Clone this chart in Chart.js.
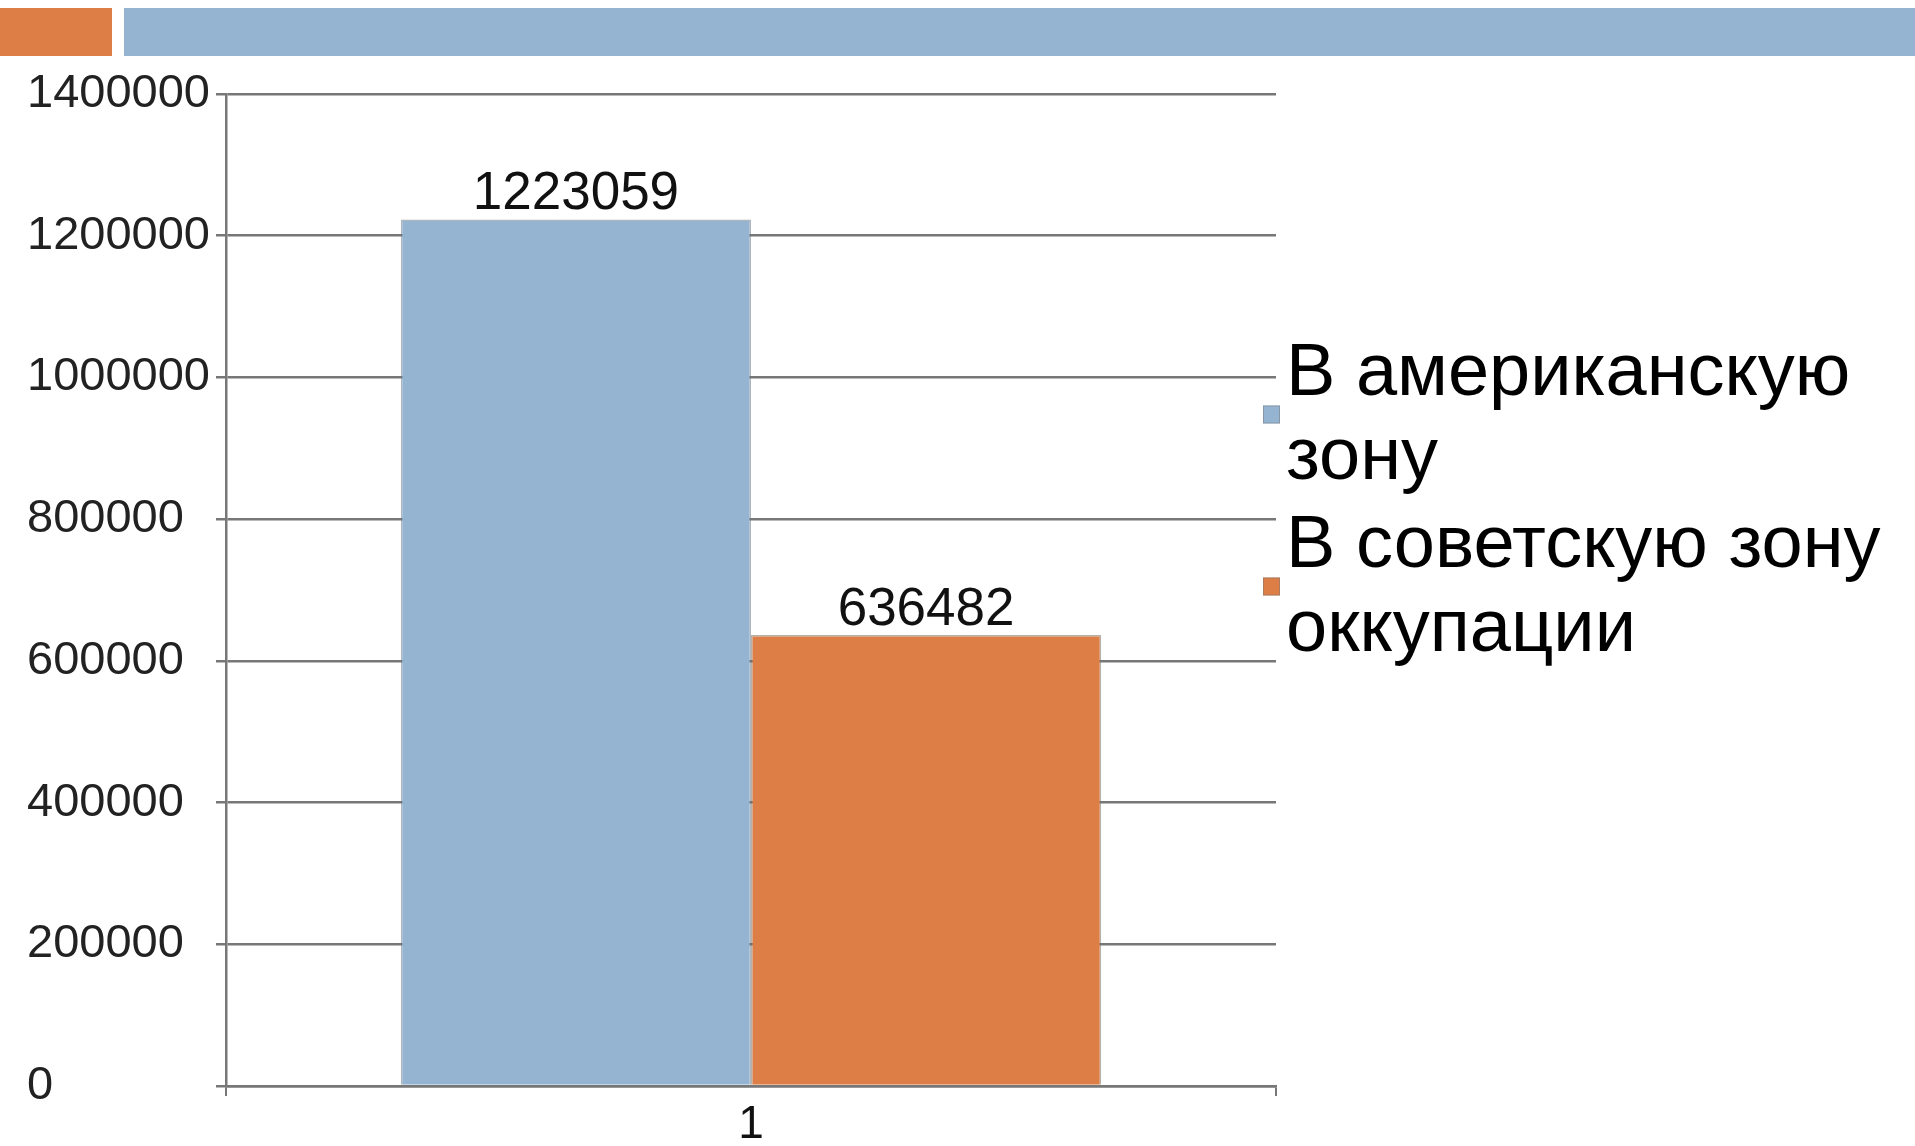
<!DOCTYPE html>
<html>
<head>
<meta charset="utf-8">
<script src="https://cdn.jsdelivr.net/npm/chart.js@4.4.1/dist/chart.umd.min.js"></script>
<style>
  html, body { margin: 0; padding: 0; background: #fff; overflow: hidden; }
  .wrap { position: relative; width: 1915px; height: 1146px; }
  .strip { position: absolute; top: 8px; height: 48px; }
  .strip.orange { left: 0; width: 112px; background: #dc7e46; }
  .strip.blue { left: 124px; right: 0; background: #94b4d2; }
  canvas { position: absolute; left: 0; top: 0; }
</style>
</head>
<body>
<div class="wrap">
  <div class="strip orange"></div>
  <div class="strip blue"></div>
  <canvas id="chart" width="1915" height="1146"></canvas>
</div>
<script>
// Chart data
const categories = ['1'];
const seriesNames = ['В американскую зону', 'В советскую зону оккупации'];
const americanZone = [1223059];
const sovietZone = [636482];
const yTickValues = [0, 200000, 400000, 600000, 800000, 1000000, 1200000, 1400000];

const seriesColors = ['#94b4d2', '#dc7e46'];
const gridGray = '#777777';
const fontFamily = '"Liberation Sans", Arial, sans-serif';

// value labels above each bar
const valueLabels = {
  id: 'valueLabels',
  afterDatasetsDraw(chart) {
    const ctx = chart.ctx;
    ctx.save();
    ctx.font = '53px ' + fontFamily;
    ctx.fillStyle = '#111';
    ctx.textAlign = 'center';
    ctx.textBaseline = 'alphabetic';
    chart.data.datasets.forEach((ds, i) => {
      chart.getDatasetMeta(i).data.forEach((bar, j) => {
        ctx.fillText(String(ds.data[j]), bar.x, bar.y - 10);
      });
    });
    ctx.restore();
  }
};

// legend on the right, labels wrapped by words
const sideLegend = {
  id: 'sideLegend',
  afterDraw(chart) {
    const ctx = chart.ctx;
    const textX = 1286;
    const maxWidth = 1915 - textX - 8;
    const lineH = 84;
    let y = 395;
    ctx.save();
    ctx.font = '74px ' + fontFamily;
    ctx.textBaseline = 'alphabetic';
    chart.data.datasets.forEach((ds) => {
      const words = ds.label.split(' ');
      const lines = [];
      let cur = '';
      words.forEach(w => {
        const test = cur ? cur + ' ' + w : w;
        if (ctx.measureText(test).width > maxWidth && cur) {
          lines.push(cur);
          cur = w;
        } else {
          cur = test;
        }
      });
      if (cur) lines.push(cur);

      const firstBase = y;
      ctx.fillStyle = '#000';
      ctx.textAlign = 'left';
      lines.forEach((ln, k) => ctx.fillText(ln, textX, y + k * lineH));
      const lastBase = y + (lines.length - 1) * lineH;
      const mid = (firstBase - 26 + lastBase - 19) / 2;
      ctx.fillStyle = ds.backgroundColor;
      ctx.fillRect(1263, mid - 9, 17, 18);
      ctx.strokeStyle = 'rgba(120,120,120,0.5)';
      ctx.lineWidth = 1;
      ctx.strokeRect(1263.5, mid - 8.5, 16, 17);
      y = lastBase + lineH + 4;
    });
    ctx.restore();
  }
};

new Chart(document.getElementById('chart'), {
  type: 'bar',
  data: {
    labels: categories,
    datasets: [
      {
        label: seriesNames[0],
        data: americanZone,
        backgroundColor: seriesColors[0],
        borderColor: 'rgba(110,120,135,0.55)',
        borderWidth: 1.5
      },
      {
        label: seriesNames[1],
        data: sovietZone,
        backgroundColor: seriesColors[1],
        borderColor: 'rgba(120,110,100,0.55)',
        borderWidth: 1.5
      }
    ]
  },
  options: {
    responsive: false,
    animation: false,
    devicePixelRatio: 1,
    layout: { padding: { top: 94, right: 639, left: 27, bottom: 0 } },
    datasets: { bar: { categoryPercentage: 0.667, barPercentage: 1.0 } },
    plugins: {
      legend: { display: false },
      tooltip: { enabled: false }
    },
    scales: {
      x: {
        offset: true,
        grid: {
          offset: true,
          drawOnChartArea: false,
          drawTicks: true,
          tickLength: 10,
          color: gridGray,
          lineWidth: 2
        },
        border: { display: true, color: gridGray, width: 2.5 },
        ticks: {
          padding: 2,
          color: '#111',
          font: { family: fontFamily, size: 46 }
        },
        afterFit(scale) { scale.height = 60; }
      },
      y: {
        min: 0,
        max: 1400000,
        grid: {
          color: gridGray,
          lineWidth: 2.5,
          tickLength: 10
        },
        border: { display: true, color: gridGray, width: 2.5 },
        afterBuildTicks(scale) {
          scale.ticks = yTickValues.map(v => ({ value: v }));
        },
        ticks: {
          padding: 2,
          crossAlign: 'far',
          color: '#222',
          font: { family: fontFamily, size: 47 },
          callback: (v) => String(v)
        },
        afterFit(scale) { scale.width = 199; }
      }
    }
  },
  plugins: [valueLabels, sideLegend]
});
</script>
</body>
</html>
